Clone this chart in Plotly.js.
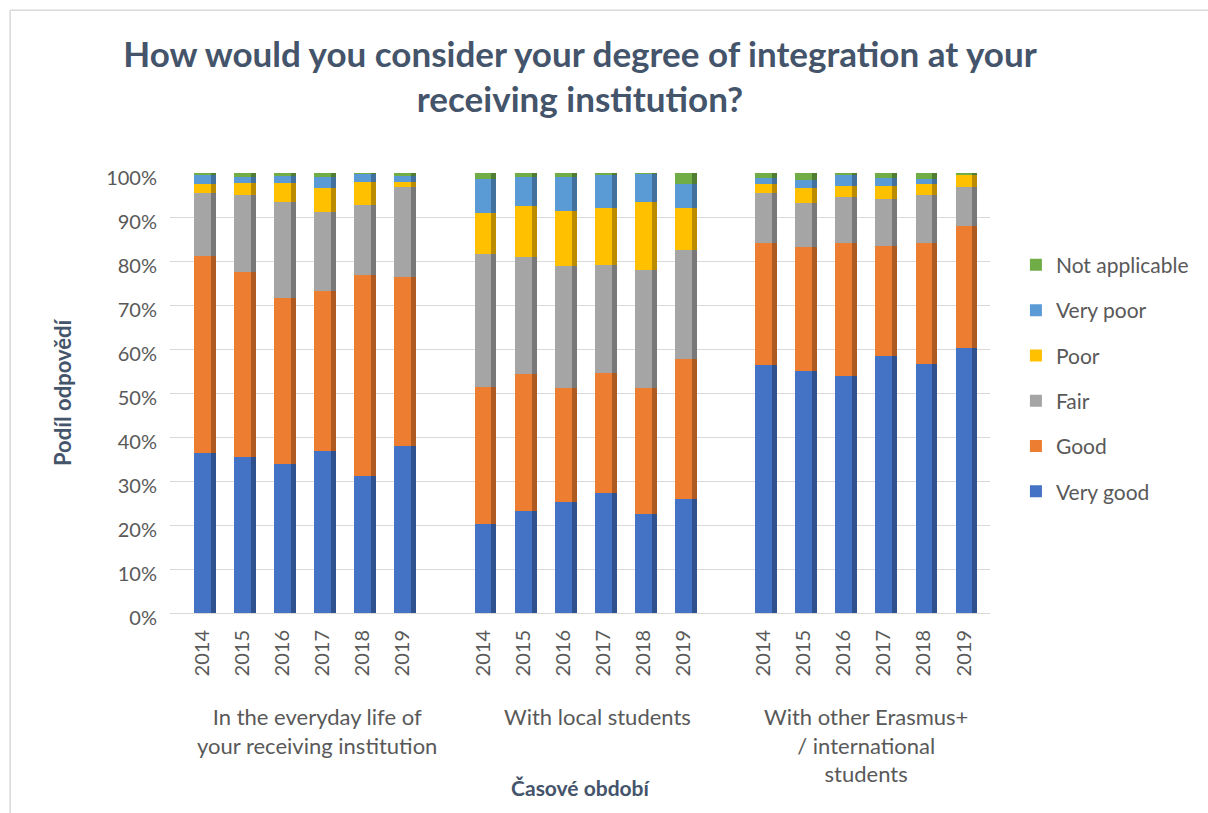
<!DOCTYPE html>
<html>
<head>
<meta charset="utf-8">
<script src="https://cdn.plot.ly/plotly-3.0.1.min.js"></script>
<style>
html,body{margin:0;padding:0;background:#fff;}
#chart{width:1208px;height:813px;}
</style>
</head>
<body>
<div id="chart"></div>
<script>
// ---- data ----
var groups = ["In the everyday life of<br>your receiving institution", "With local students", "With other Erasmus+<br>/ international<br>students"];
var years = ["2014", "2015", "2016", "2017", "2018", "2019"];
var seriesNames = ["Very good", "Good", "Fair", "Poor", "Very poor", "Not applicable"];

// values in %, order: group 1 (2014-2019), group 2 (2014-2019), group 3 (2014-2019)
var veryGood = [36.3, 35.4, 33.8, 36.9, 31.2, 38.0,  20.2, 23.2, 25.3, 27.2, 22.5, 25.9,  56.4, 55.1, 53.9, 58.4, 56.7, 60.3];
var good     = [44.9, 42.0, 37.9, 36.3, 45.6, 38.4,  31.1, 31.1, 25.9, 27.3, 28.6, 31.8,  27.8, 28.0, 30.3, 25.0, 27.5, 27.7];
var fair     = [14.3, 17.6, 21.6, 18.0, 15.9, 20.4,  30.2, 26.7, 27.7, 24.6, 26.9, 24.8,  11.2, 10.0, 10.4, 10.7, 10.8,  8.8];
var poor     = [ 2.0,  2.8,  4.5,  5.3,  5.2,  1.2,   9.3, 11.6, 12.5, 13.0, 15.5,  9.5,   2.1,  3.6,  2.4,  2.9,  2.4,  2.7];
var veryPoor = [ 2.0,  1.4,  1.6,  2.5,  1.8,  1.4,   7.8,  6.4,  7.8,  7.4,  6.3,  5.4,   1.3,  1.7,  2.5,  1.8,  1.2,  0.0];
var notAppl  = [ 0.5,  0.8,  0.6,  1.0,  0.3,  0.6,   1.4,  1.0,  0.8,  0.5,  0.2,  2.6,   1.2,  1.6,  0.5,  1.2,  1.4,  0.5];

var seriesValues = [veryGood, good, fair, poor, veryPoor, notAppl];
var colors     = ["#4472C4", "#ED7D31", "#A5A5A5", "#FFC000", "#5B9BD5", "#70AD47"];
var sideColors = ["#2F528F", "#AE5A21", "#787878", "#BC8C00", "#41719C", "#507E32"];

// ---- build ----
var FONT = "Lato, 'Open Sans', sans-serif";
var TEXT = "#595959";
var TITLE = "#44546A";
var groupStep = years.length + 1;

var xpos = [], tickvals = [], ticktext = [];
for (var g = 0; g < groups.length; g++) {
  for (var k = 0; k < years.length; k++) {
    xpos.push(g * groupStep + k);
    tickvals.push(g * groupStep + k);
    ticktext.push(years[k]);
  }
}

// darker side faces (pseudo-3D), drawn underneath on the base axes
var sideTraces = seriesNames.map(function (name, i) {
  return {
    type: "bar", name: name, x: xpos, y: seriesValues[i],
    xaxis: "x", yaxis: "y",
    offset: -0.21, width: 0.545,
    showlegend: false, hoverinfo: "skip",
    marker: { color: sideColors[i], line: { width: 0 } }
  };
});
// front faces on an overlaid axis
var frontTraces = seriesNames.map(function (name, i) {
  return {
    type: "bar", name: name, x: xpos, y: seriesValues[i],
    xaxis: "x2", yaxis: "y",
    offset: -0.21, width: 0.42,
    legendgroup: name,
    legendrank: 1000 - i * 10,
    marker: { color: colors[i], line: { width: 0 } },
    hoverinfo: "name+y"
  };
});

var annotations = groups.map(function (label, g) {
  var shift = [0.35, 0.35, 0.05][g];
  return {
    xref: "x", yref: "paper",
    x: g * groupStep + (years.length - 1) / 2 + shift,
    y: -0.199,
    xanchor: "center", yanchor: "top",
    text: label, showarrow: false, align: "center",
    font: { family: FONT, size: 22, color: TEXT }
  };
});

var XR = [-0.811, 19.648];

var layout = {
  width: 1208, height: 813,
  margin: { l: 170, r: 218, t: 173, b: 200, pad: 0 },
  paper_bgcolor: "#ffffff", plot_bgcolor: "#ffffff",
  barmode: "stack",
  title: {
    text: "How would you consider your degree of integration at your<br>receiving institution?",
    font: { family: FONT, size: 35, color: TITLE, weight: "bold" },
    x: 0.5, xref: "paper", xanchor: "center",
    y: 0.918, yref: "container", yanchor: "top"
  },
  xaxis: {
    range: XR,
    tickmode: "array", tickvals: tickvals, ticktext: ticktext,
    tickangle: -90,
    tickfont: { family: FONT, size: 20, color: TEXT },
    showgrid: false, zeroline: false, showline: false, ticks: "",
    ticklabelstandoff: 12,
    automargin: false,
    title: {
      text: "Časové období",
      font: { family: FONT, size: 21, color: TITLE, weight: "bold" },
      standoff: 105
    }
  },
  xaxis2: {
    overlaying: "x", matches: "x", range: XR,
    visible: false, showgrid: false, zeroline: false
  },
  yaxis: {
    range: [0, 100], dtick: 10, ticksuffix: "%",
    tickfont: { family: FONT, size: 20, color: TEXT },
    showgrid: true, gridcolor: "#D9D9D9", gridwidth: 1,
    zeroline: true, zerolinecolor: "#D9D9D9", zerolinewidth: 1,
    showline: false, ticks: "",
    ticklabelstandoff: 12,
    ticklabelshift: 5,
    automargin: false,
    title: {
      text: "Podíl odpovědí",
      font: { family: FONT, size: 22, color: TITLE, weight: "bold" },
      standoff: 28
    }
  },
  legend: {
    xref: "container", yref: "container",
    x: 0.841, xanchor: "left", y: 0.699, yanchor: "top",
    traceorder: "grouped", tracegroupgap: 15,
    font: { family: FONT, size: 21, color: TEXT },
    bgcolor: "rgba(0,0,0,0)", itemclick: false
  },
  annotations: annotations,
  shapes: [
    { type: "line", xref: "paper", yref: "paper", x0: -0.195, x1: -0.195, y0: 1.37, y1: -0.46, line: { color: "#D9D9D9", width: 1.5 } },
    { type: "line", xref: "paper", yref: "paper", x0: -0.195, x1: 1.3, y0: 1.37, y1: 1.37, line: { color: "#D9D9D9", width: 1.5 } }
  ],
  showlegend: true
};

Plotly.newPlot("chart", sideTraces.concat(frontTraces), layout, { displayModeBar: false, staticPlot: true });
</script>
</body>
</html>
